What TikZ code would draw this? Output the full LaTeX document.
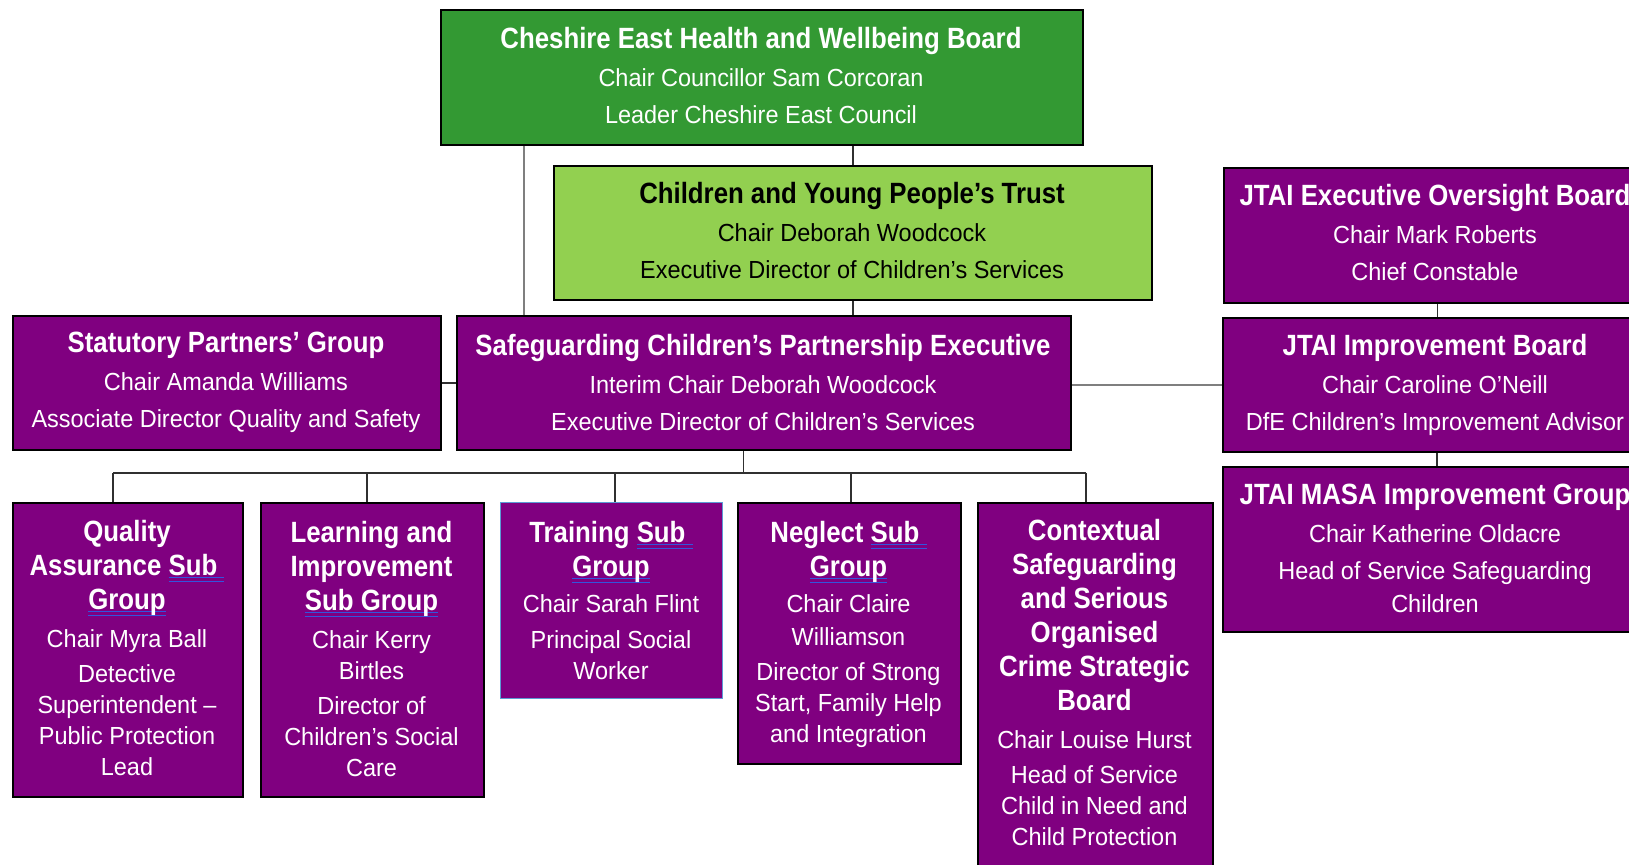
\documentclass[tikz,border=0pt]{standalone}
\usepackage{fontspec}
\newfontfamily\sfont{Liberation Sans}[FakeStretch=0.95]
\newfontfamily\tfont{Liberation Sans}[FakeStretch=0.88]
\usetikzlibrary{calc}
\definecolor{dgreen}{HTML}{339933}
\definecolor{lgreen}{HTML}{92D050}
\definecolor{purp}{HTML}{800080}
\definecolor{sqblue}{HTML}{3355DD}
\definecolor{tblue}{HTML}{5B9BD5}
\definecolor{lgray}{HTML}{7F7F7F}
\definecolor{dgray}{HTML}{303030}
\newsavebox\sqbox
\newcommand\sq[1]{\sbox\sqbox{#1}\rlap{\textcolor{sqblue}{\rule[-1.3pt]{\wd\sqbox}{0.6pt}}}\rlap{\textcolor{sqblue}{\rule[-3.1pt]{\wd\sqbox}{0.6pt}}}\usebox\sqbox}
\newcommand\T[1]{{\tfont\bfseries\fontsize{14.65pt}{15.5pt}\selectfont #1}}
\tikzset{
  orgbox/.style={draw=black, line width=1pt, fill=purp, inner sep=0pt, anchor=north west},
  txt/.style={anchor=north, align=center, inner sep=0pt, text=white,
    font=\sfont\fontsize{12.36pt}{15.5pt}\selectfont},
  gline/.style={draw=lgray, line width=1.2pt},
  kline/.style={draw=dgray, line width=0.9pt},
}
\begin{document}
\begin{tikzpicture}[x=0.5pt,y=-0.5pt]
\useasboundingbox (0,0) rectangle (1629,865);
\fill[white] (0,0) rectangle (1629,865);
\clip (0,0) rectangle (1629,865);

% boxes
\node[orgbox, fill=dgreen, minimum width=321pt, minimum height=67.5pt] (ches) at (440,9) {};
\node[orgbox, fill=lgreen, minimum width=299pt, minimum height=67pt] (cypt) at (553,165) {};
\node[orgbox, minimum width=213.5pt, minimum height=67.5pt] (exec) at (1223,167) {};
\node[orgbox, minimum width=214pt, minimum height=67pt] (stat) at (12,315) {};
\node[orgbox, minimum width=307pt, minimum height=67pt] (scpe) at (456,315) {};
\node[orgbox, minimum width=214pt, minimum height=67pt] (impb) at (1222,317) {};
\node[orgbox, minimum width=214pt, minimum height=82.5pt] (masa) at (1222,466) {};
\node[orgbox, minimum width=115pt, minimum height=147pt] (qa) at (12,502) {};
\node[orgbox, minimum width=111.5pt, minimum height=147pt] (li) at (260,502) {};
\node[orgbox, draw=tblue, line width=0.7pt, minimum width=111pt, minimum height=98pt] (tr) at (500,502) {};
\node[orgbox, minimum width=111.5pt, minimum height=130.5pt] (ng) at (737,502) {};
\node[orgbox, minimum width=117.5pt, minimum height=199pt] (cs) at (977,502) {};

% connectors
\coordinate (cx) at (524,0);
\draw[gline] (cx |- ches.south) -- (cx |- scpe.north);
\draw[kline] (cypt.north |- ches.south) -- (cypt.north);
\draw[kline] (cypt.south) -- (cypt.south |- scpe.north);
\draw[kline] (stat.east) -- (scpe.west);
\draw[gline] (impb.west -| scpe.east) -- (impb.west);
\draw[kline] (exec.south) -- (exec.south |- impb.north);
\draw[kline] (impb.south) -- (impb.south |- masa.north);
\coordinate (sx) at (743.5,0);
\coordinate (bus) at (0,473);
\coordinate (dqa) at (113,0);
\coordinate (dli) at (367,0);
\coordinate (dtr) at (615,0);
\coordinate (dng) at (851,0);
\coordinate (dcs) at (1086,0);
\draw[kline] (sx |- scpe.south) -- (sx |- bus);
\draw[kline] (dqa |- bus) -- (dcs |- bus);
\draw[kline] (dqa |- bus) -- (dqa |- qa.north);
\draw[kline] (dli |- bus) -- (dli |- li.north);
\draw[kline] (dtr |- bus) -- (dtr |- tr.north);
\draw[kline] (dng |- bus) -- (dng |- ng.north);
\draw[kline] (dcs |- bus) -- (dcs |- cs.north);

% texts
\node[txt] (ches-t) at (761,26.6) {\T{Cheshire East Health and Wellbeing Board}\\[3.45pt]Chair Councillor Sam Corcoran\\[3pt]Leader Cheshire East Council};
\node[txt, text=black] (cypt-t) at (852,182.1) {\T{Children and Young People’s Trust}\\[3.45pt]Chair Deborah Woodcock\\[3pt]Executive Director of Children’s Services};
\node[txt] (exec-t) at (1435,184.1) {\T{JTAI Executive Oversight Board}\\[3.45pt]Chair Mark Roberts\\[3pt]Chief Constable};
\node[txt] (stat-t) at (226,332.1) {\T{Statutory Partners’ Group}\\[3.45pt]Chair Amanda Williams\\[3pt]Associate Director Quality and Safety};
\node[txt] (scpe-t) at (763,334.1) {\T{Safeguarding Children’s Partnership Executive}\\[3.45pt]Interim Chair Deborah Woodcock\\[3pt]Executive Director of Children’s Services};
\node[txt] (impb-t) at (1435,334.1) {\T{JTAI Improvement Board}\\[3.45pt]Chair Caroline O’Neill\\[3pt]DfE Children’s Improvement Advisor};
\node[txt] (masa-t) at (1435,483.6) {\T{JTAI MASA Improvement Group}\\[3.45pt]Chair Katherine Oldacre\\[3pt]Head of Service Safeguarding\\[1pt]Children};

\node[txt] (qa-t) at (127,520.1) {\T{Quality}\\[1.5pt]\T{Assurance \sq{Sub\ }}\\[1.5pt]\T{\sq{Group}}\\[3.2pt]Chair Myra Ball\\[2pt]Detective\\Superintendent –\\Public Protection\\Lead};
\node[txt] (li-t) at (371.5,521.1) {\T{Learning and}\\[1.5pt]\T{Improvement}\\[1.5pt]\T{\sq{Sub Group}}\\[3.2pt]Chair Kerry\\Birtles\\[2pt]Director of\\Children’s Social\\Care};
\node[txt] (tr-t) at (611,521.1) {\T{Training \sq{Sub\ }}\\[1.5pt]\T{\sq{Group}}\\[2.4pt]Chair Sarah Flint\\[2.5pt]Principal Social\\Worker};
\node[txt] (ng-t) at (848.5,521.1) {\T{Neglect \sq{Sub\ }}\\[1.5pt]\T{\sq{Group}}\\[2.4pt]Chair Claire\\[1pt]Williamson\\[2pt]Director of Strong\\Start, Family Help\\and Integration};
\node[txt] (cs-t) at (1094.5,519.1) {\T{Contextual}\\[1.5pt]\T{Safeguarding}\\[1.5pt]\T{and Serious}\\[1.5pt]\T{Organised}\\[1.5pt]\T{Crime Strategic}\\[1.5pt]\T{Board}\\[3.2pt]Chair Louise Hurst\\[2pt]Head of Service\\Child in Need and\\Child Protection};
\end{tikzpicture}
\end{document}
